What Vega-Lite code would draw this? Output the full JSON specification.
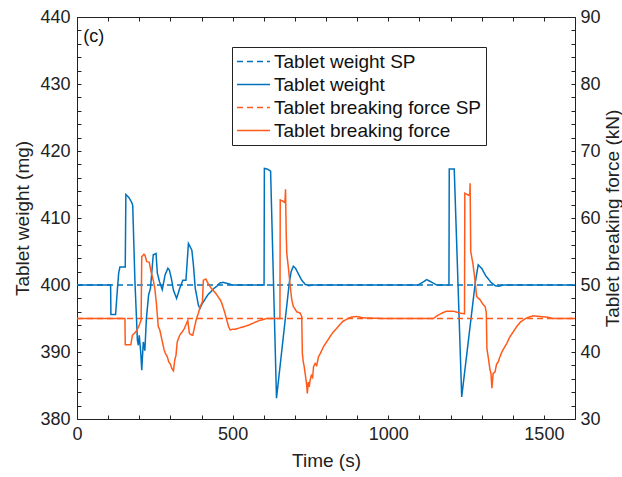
{
  "$schema": "https://vega.github.io/schema/vega-lite/v6.json",
  "width": 498,
  "height": 402,
  "autosize": "none",
  "padding": {"left": 77, "top": 17, "right": 47, "bottom": 58},
  "background": "white",
  "config": {
    "font": "Liberation Sans",
    "view": {"stroke": "#222", "strokeWidth": 1},
    "axis": {
      "grid": false,
      "domain": false,
      "labelFont": "Liberation Sans",
      "labelFontSize": 18,
      "labelColor": "#222",
      "labelOverlap": false,
      "titleFont": "Liberation Sans",
      "titleFontSize": 19,
      "titleFontWeight": "normal",
      "titleColor": "#222",
      "tickColor": "#222",
      "tickWidth": 1,
      "tickSize": -4
    }
  },
  "datasets": {
    "weight": [
      {"series": "Tablet weight SP", "t": 0, "v": 400},
      {"series": "Tablet weight SP", "t": 1600, "v": 400},
      {"series": "Tablet weight", "t": 0, "v": 400},
      {"series": "Tablet weight", "t": 108, "v": 400},
      {"series": "Tablet weight", "t": 109, "v": 395.6},
      {"series": "Tablet weight", "t": 124, "v": 395.6},
      {"series": "Tablet weight", "t": 130, "v": 399.5},
      {"series": "Tablet weight", "t": 134, "v": 401.8},
      {"series": "Tablet weight", "t": 138, "v": 402.7},
      {"series": "Tablet weight", "t": 155, "v": 402.7},
      {"series": "Tablet weight", "t": 157, "v": 413.5},
      {"series": "Tablet weight", "t": 166, "v": 413.1},
      {"series": "Tablet weight", "t": 176, "v": 412.3},
      {"series": "Tablet weight", "t": 179, "v": 411.9},
      {"series": "Tablet weight", "t": 186, "v": 400.7},
      {"series": "Tablet weight", "t": 194, "v": 391.8},
      {"series": "Tablet weight", "t": 197, "v": 391},
      {"series": "Tablet weight", "t": 200, "v": 392.5},
      {"series": "Tablet weight", "t": 205, "v": 389.8},
      {"series": "Tablet weight", "t": 208, "v": 387.3},
      {"series": "Tablet weight", "t": 213, "v": 391.5},
      {"series": "Tablet weight", "t": 218, "v": 390.2},
      {"series": "Tablet weight", "t": 223, "v": 395},
      {"series": "Tablet weight", "t": 230, "v": 398.5},
      {"series": "Tablet weight", "t": 236, "v": 399.5},
      {"series": "Tablet weight", "t": 245, "v": 404.5},
      {"series": "Tablet weight", "t": 254, "v": 404.7},
      {"series": "Tablet weight", "t": 258, "v": 401.8},
      {"series": "Tablet weight", "t": 265, "v": 400.5},
      {"series": "Tablet weight", "t": 274, "v": 399.3},
      {"series": "Tablet weight", "t": 283, "v": 401.5},
      {"series": "Tablet weight", "t": 292, "v": 402.5},
      {"series": "Tablet weight", "t": 297, "v": 402.2},
      {"series": "Tablet weight", "t": 303, "v": 401},
      {"series": "Tablet weight", "t": 310, "v": 399.2},
      {"series": "Tablet weight", "t": 320, "v": 398},
      {"series": "Tablet weight", "t": 330, "v": 399.5},
      {"series": "Tablet weight", "t": 340, "v": 400.7},
      {"series": "Tablet weight", "t": 350, "v": 400.7},
      {"series": "Tablet weight", "t": 358, "v": 406.2},
      {"series": "Tablet weight", "t": 369, "v": 405.2},
      {"series": "Tablet weight", "t": 374, "v": 403},
      {"series": "Tablet weight", "t": 380, "v": 399.5},
      {"series": "Tablet weight", "t": 390, "v": 397},
      {"series": "Tablet weight", "t": 395, "v": 396.5},
      {"series": "Tablet weight", "t": 402, "v": 397.2},
      {"series": "Tablet weight", "t": 420, "v": 398.5},
      {"series": "Tablet weight", "t": 440, "v": 399.5},
      {"series": "Tablet weight", "t": 449, "v": 399.8},
      {"series": "Tablet weight", "t": 459, "v": 400.3},
      {"series": "Tablet weight", "t": 470, "v": 400.4},
      {"series": "Tablet weight", "t": 485, "v": 400.2},
      {"series": "Tablet weight", "t": 500, "v": 400},
      {"series": "Tablet weight", "t": 601, "v": 400},
      {"series": "Tablet weight", "t": 602, "v": 417.4},
      {"series": "Tablet weight", "t": 612, "v": 417.3},
      {"series": "Tablet weight", "t": 622, "v": 417},
      {"series": "Tablet weight", "t": 641, "v": 383.1},
      {"series": "Tablet weight", "t": 682, "v": 400.3},
      {"series": "Tablet weight", "t": 688, "v": 402},
      {"series": "Tablet weight", "t": 695, "v": 402.8},
      {"series": "Tablet weight", "t": 702, "v": 402.5},
      {"series": "Tablet weight", "t": 712, "v": 401.6},
      {"series": "Tablet weight", "t": 722, "v": 400.7},
      {"series": "Tablet weight", "t": 733, "v": 400.1},
      {"series": "Tablet weight", "t": 745, "v": 399.9},
      {"series": "Tablet weight", "t": 760, "v": 400},
      {"series": "Tablet weight", "t": 1096, "v": 400},
      {"series": "Tablet weight", "t": 1110, "v": 400.4},
      {"series": "Tablet weight", "t": 1124, "v": 400.8},
      {"series": "Tablet weight", "t": 1140, "v": 400.4},
      {"series": "Tablet weight", "t": 1156, "v": 400},
      {"series": "Tablet weight", "t": 1195, "v": 400},
      {"series": "Tablet weight", "t": 1196, "v": 417.3},
      {"series": "Tablet weight", "t": 1212, "v": 417.3},
      {"series": "Tablet weight", "t": 1236, "v": 383.3},
      {"series": "Tablet weight", "t": 1280, "v": 400.5},
      {"series": "Tablet weight", "t": 1289, "v": 403},
      {"series": "Tablet weight", "t": 1300, "v": 402.5},
      {"series": "Tablet weight", "t": 1313, "v": 401.4},
      {"series": "Tablet weight", "t": 1330, "v": 400.4},
      {"series": "Tablet weight", "t": 1343, "v": 399.9},
      {"series": "Tablet weight", "t": 1355, "v": 399.8},
      {"series": "Tablet weight", "t": 1370, "v": 400},
      {"series": "Tablet weight", "t": 1600, "v": 400}
    ],
    "force": [
      {"series": "Tablet breaking force SP", "t": 0, "v": 45},
      {"series": "Tablet breaking force SP", "t": 1600, "v": 45},
      {"series": "Tablet breaking force", "t": 0, "v": 45},
      {"series": "Tablet breaking force", "t": 154, "v": 45},
      {"series": "Tablet breaking force", "t": 155, "v": 41.1},
      {"series": "Tablet breaking force", "t": 173, "v": 41.1},
      {"series": "Tablet breaking force", "t": 178, "v": 42.5},
      {"series": "Tablet breaking force", "t": 185, "v": 42.8},
      {"series": "Tablet breaking force", "t": 192, "v": 43.2},
      {"series": "Tablet breaking force", "t": 200, "v": 44},
      {"series": "Tablet breaking force", "t": 206, "v": 44.8},
      {"series": "Tablet breaking force", "t": 208, "v": 54.2},
      {"series": "Tablet breaking force", "t": 215, "v": 54.6},
      {"series": "Tablet breaking force", "t": 218, "v": 54.5},
      {"series": "Tablet breaking force", "t": 224, "v": 53.5},
      {"series": "Tablet breaking force", "t": 232, "v": 53.4},
      {"series": "Tablet breaking force", "t": 238, "v": 52},
      {"series": "Tablet breaking force", "t": 245, "v": 50.7},
      {"series": "Tablet breaking force", "t": 250, "v": 49.5},
      {"series": "Tablet breaking force", "t": 255, "v": 47.3},
      {"series": "Tablet breaking force", "t": 261, "v": 43.8},
      {"series": "Tablet breaking force", "t": 266, "v": 43.3},
      {"series": "Tablet breaking force", "t": 272, "v": 42},
      {"series": "Tablet breaking force", "t": 280, "v": 40.3},
      {"series": "Tablet breaking force", "t": 284, "v": 39.8},
      {"series": "Tablet breaking force", "t": 290, "v": 39.3},
      {"series": "Tablet breaking force", "t": 295, "v": 38.5},
      {"series": "Tablet breaking force", "t": 300, "v": 38.2},
      {"series": "Tablet breaking force", "t": 305, "v": 37.5},
      {"series": "Tablet breaking force", "t": 310, "v": 37.2},
      {"series": "Tablet breaking force", "t": 314, "v": 38.8},
      {"series": "Tablet breaking force", "t": 318, "v": 39.5},
      {"series": "Tablet breaking force", "t": 322, "v": 41.5},
      {"series": "Tablet breaking force", "t": 330, "v": 42.5},
      {"series": "Tablet breaking force", "t": 338, "v": 43},
      {"series": "Tablet breaking force", "t": 345, "v": 43.5},
      {"series": "Tablet breaking force", "t": 352, "v": 44.3},
      {"series": "Tablet breaking force", "t": 356, "v": 44.7},
      {"series": "Tablet breaking force", "t": 361, "v": 42.8},
      {"series": "Tablet breaking force", "t": 366, "v": 42.6},
      {"series": "Tablet breaking force", "t": 372, "v": 42.5},
      {"series": "Tablet breaking force", "t": 378, "v": 43.8},
      {"series": "Tablet breaking force", "t": 384, "v": 45},
      {"series": "Tablet breaking force", "t": 390, "v": 45.8},
      {"series": "Tablet breaking force", "t": 396, "v": 46.8},
      {"series": "Tablet breaking force", "t": 403, "v": 47.5},
      {"series": "Tablet breaking force", "t": 406, "v": 50.7},
      {"series": "Tablet breaking force", "t": 414, "v": 50.9},
      {"series": "Tablet breaking force", "t": 420, "v": 50.3},
      {"series": "Tablet breaking force", "t": 430, "v": 49.6},
      {"series": "Tablet breaking force", "t": 445, "v": 48.8},
      {"series": "Tablet breaking force", "t": 460, "v": 47.8},
      {"series": "Tablet breaking force", "t": 465, "v": 47.3},
      {"series": "Tablet breaking force", "t": 474, "v": 46},
      {"series": "Tablet breaking force", "t": 481, "v": 44.8},
      {"series": "Tablet breaking force", "t": 487, "v": 43.8},
      {"series": "Tablet breaking force", "t": 492, "v": 43.3},
      {"series": "Tablet breaking force", "t": 500, "v": 43.4},
      {"series": "Tablet breaking force", "t": 508, "v": 43.4},
      {"series": "Tablet breaking force", "t": 530, "v": 43.7},
      {"series": "Tablet breaking force", "t": 551, "v": 44},
      {"series": "Tablet breaking force", "t": 580, "v": 44.6},
      {"series": "Tablet breaking force", "t": 609, "v": 45},
      {"series": "Tablet breaking force", "t": 652, "v": 45},
      {"series": "Tablet breaking force", "t": 653, "v": 62.7},
      {"series": "Tablet breaking force", "t": 662, "v": 62.5},
      {"series": "Tablet breaking force", "t": 668, "v": 62.3},
      {"series": "Tablet breaking force", "t": 670, "v": 64.3},
      {"series": "Tablet breaking force", "t": 672, "v": 58},
      {"series": "Tablet breaking force", "t": 674, "v": 54.7},
      {"series": "Tablet breaking force", "t": 680, "v": 52.2},
      {"series": "Tablet breaking force", "t": 685, "v": 49.8},
      {"series": "Tablet breaking force", "t": 690, "v": 47.8},
      {"series": "Tablet breaking force", "t": 695, "v": 46.8},
      {"series": "Tablet breaking force", "t": 706, "v": 46},
      {"series": "Tablet breaking force", "t": 717, "v": 45.8},
      {"series": "Tablet breaking force", "t": 722, "v": 45.3},
      {"series": "Tablet breaking force", "t": 724, "v": 39.8},
      {"series": "Tablet breaking force", "t": 727, "v": 38.5},
      {"series": "Tablet breaking force", "t": 730, "v": 37.8},
      {"series": "Tablet breaking force", "t": 733, "v": 36.8},
      {"series": "Tablet breaking force", "t": 736, "v": 35.8},
      {"series": "Tablet breaking force", "t": 738, "v": 35},
      {"series": "Tablet breaking force", "t": 740, "v": 33.8},
      {"series": "Tablet breaking force", "t": 743, "v": 35.5},
      {"series": "Tablet breaking force", "t": 746, "v": 34.8},
      {"series": "Tablet breaking force", "t": 749, "v": 35.8},
      {"series": "Tablet breaking force", "t": 753, "v": 36.5},
      {"series": "Tablet breaking force", "t": 757, "v": 36.2},
      {"series": "Tablet breaking force", "t": 760, "v": 37.8},
      {"series": "Tablet breaking force", "t": 765, "v": 38.3},
      {"series": "Tablet breaking force", "t": 770, "v": 38},
      {"series": "Tablet breaking force", "t": 776, "v": 39.3},
      {"series": "Tablet breaking force", "t": 782, "v": 39.8},
      {"series": "Tablet breaking force", "t": 787, "v": 40.3},
      {"series": "Tablet breaking force", "t": 792, "v": 40.8},
      {"series": "Tablet breaking force", "t": 802, "v": 41.5},
      {"series": "Tablet breaking force", "t": 813, "v": 42.3},
      {"series": "Tablet breaking force", "t": 822, "v": 42.9},
      {"series": "Tablet breaking force", "t": 834, "v": 43.5},
      {"series": "Tablet breaking force", "t": 845, "v": 44.1},
      {"series": "Tablet breaking force", "t": 855, "v": 44.6},
      {"series": "Tablet breaking force", "t": 867, "v": 44.9},
      {"series": "Tablet breaking force", "t": 880, "v": 45.2},
      {"series": "Tablet breaking force", "t": 899, "v": 45.3},
      {"series": "Tablet breaking force", "t": 920, "v": 45.1},
      {"series": "Tablet breaking force", "t": 985, "v": 45},
      {"series": "Tablet breaking force", "t": 1145, "v": 45},
      {"series": "Tablet breaking force", "t": 1160, "v": 45.5},
      {"series": "Tablet breaking force", "t": 1177, "v": 45.9},
      {"series": "Tablet breaking force", "t": 1188, "v": 46.1},
      {"series": "Tablet breaking force", "t": 1210, "v": 46.1},
      {"series": "Tablet breaking force", "t": 1230, "v": 45.8},
      {"series": "Tablet breaking force", "t": 1245, "v": 45.7},
      {"series": "Tablet breaking force", "t": 1246, "v": 63.7},
      {"series": "Tablet breaking force", "t": 1258, "v": 63.4},
      {"series": "Tablet breaking force", "t": 1262, "v": 63.6},
      {"series": "Tablet breaking force", "t": 1263, "v": 65.2},
      {"series": "Tablet breaking force", "t": 1265, "v": 55},
      {"series": "Tablet breaking force", "t": 1268, "v": 54.2},
      {"series": "Tablet breaking force", "t": 1272, "v": 53.2},
      {"series": "Tablet breaking force", "t": 1278, "v": 51},
      {"series": "Tablet breaking force", "t": 1284, "v": 48.3},
      {"series": "Tablet breaking force", "t": 1290, "v": 48},
      {"series": "Tablet breaking force", "t": 1295, "v": 47.8},
      {"series": "Tablet breaking force", "t": 1303, "v": 47.2},
      {"series": "Tablet breaking force", "t": 1311, "v": 46.8},
      {"series": "Tablet breaking force", "t": 1315, "v": 45.9},
      {"series": "Tablet breaking force", "t": 1317, "v": 40.5},
      {"series": "Tablet breaking force", "t": 1321, "v": 39.3},
      {"series": "Tablet breaking force", "t": 1327, "v": 37.3},
      {"series": "Tablet breaking force", "t": 1330, "v": 36.8},
      {"series": "Tablet breaking force", "t": 1333, "v": 34.6},
      {"series": "Tablet breaking force", "t": 1337, "v": 36.8},
      {"series": "Tablet breaking force", "t": 1343, "v": 37},
      {"series": "Tablet breaking force", "t": 1348, "v": 38.2},
      {"series": "Tablet breaking force", "t": 1353, "v": 38.5},
      {"series": "Tablet breaking force", "t": 1359, "v": 39.3},
      {"series": "Tablet breaking force", "t": 1365, "v": 40},
      {"series": "Tablet breaking force", "t": 1371, "v": 40.5},
      {"series": "Tablet breaking force", "t": 1381, "v": 41.3},
      {"series": "Tablet breaking force", "t": 1390, "v": 42.2},
      {"series": "Tablet breaking force", "t": 1400, "v": 42.9},
      {"series": "Tablet breaking force", "t": 1413, "v": 43.8},
      {"series": "Tablet breaking force", "t": 1425, "v": 44.5},
      {"series": "Tablet breaking force", "t": 1445, "v": 45.1},
      {"series": "Tablet breaking force", "t": 1465, "v": 45.4},
      {"series": "Tablet breaking force", "t": 1488, "v": 45.3},
      {"series": "Tablet breaking force", "t": 1510, "v": 45.2},
      {"series": "Tablet breaking force", "t": 1530, "v": 45},
      {"series": "Tablet breaking force", "t": 1600, "v": 45}
    ]
  },
  "layer": [
    {
      "layer": [
        {
          "data": {"name": "weight"},
          "mark": {"type": "line", "strokeWidth": 1.5, "interpolate": "linear"},
          "encoding": {
            "x": {
              "field": "t", "type": "quantitative",
              "scale": {"domain": [0, 1600], "nice": false},
              "axis": {
                "orient": "bottom",
                "title": "Time (s)",
                "format": "d",
                "values": [0, 100, 200, 300, 400, 500, 600, 700, 800, 900, 1000, 1100, 1200, 1300, 1400, 1500, 1600],
                "labelExpr": "datum.value % 500 === 0 ? datum.label : ''",
                "labelPadding": 10,
                "titlePadding": 8,
                "labelFlush": false
              }
            },
            "y": {
              "field": "v", "type": "quantitative",
              "scale": {"domain": [380, 440], "nice": false, "zero": false},
              "axis": {
                "orient": "left",
                "title": "Tablet weight (mg)",
                "values": [380, 382, 384, 386, 388, 390, 392, 394, 396, 398, 400, 402, 404, 406, 408, 410, 412, 414, 416, 418, 420, 422, 424, 426, 428, 430, 432, 434, 436, 438, 440],
                "labelExpr": "datum.value % 10 === 0 ? datum.label : ''",
                "labelPadding": 11,
                "titlePadding": 7
              }
            },
            "color": {
              "field": "series", "type": "nominal",
              "scale": {
                "domain": ["Tablet weight SP", "Tablet weight", "Tablet breaking force SP", "Tablet breaking force"],
                "range": ["#0072BD", "#0072BD", "#FF5A1A", "#FF5A1A"]
              },
              "legend": {
                "title": null,
                "orient": "none",
                "legendX": 155,
                "legendY": 30,
                "symbolType": "stroke",
                "symbolSize": 1089,
                "symbolStrokeWidth": 1.5,
                "labelFont": "Liberation Sans",
                "labelFontSize": 19,
                "labelColor": "#111",
                "labelLimit": 400,
                "labelOffset": 3,
                "strokeColor": "#222",
                "fillColor": "white",
                "padding": 4,
                "rowPadding": 2,
                "clipHeight": 21
              }
            },
            "strokeDash": {
              "field": "series", "type": "nominal",
              "scale": {
                "domain": ["Tablet weight SP", "Tablet weight", "Tablet breaking force SP", "Tablet breaking force"],
                "range": [[6, 4], [1, 0], [6, 4], [1, 0]]
              },
              "legend": {
                "title": null,
                "orient": "none",
                "legendX": 155,
                "legendY": 30,
                "symbolType": "stroke",
                "symbolSize": 1089,
                "symbolStrokeWidth": 1.5,
                "labelFont": "Liberation Sans",
                "labelFontSize": 19,
                "labelLimit": 400,
                "labelOffset": 3,
                "strokeColor": "#222",
                "fillColor": "white",
                "padding": 4,
                "rowPadding": 2,
                "clipHeight": 21
              }
            }
          }
        },
        {
          "data": {"values": [{"t": 20, "v": 437, "label": "(c)"}]},
          "mark": {"type": "text", "align": "left", "baseline": "middle", "fontSize": 18, "font": "Liberation Sans", "color": "#111"},
          "encoding": {
            "x": {
              "field": "t", "type": "quantitative",
              "axis": {
                "orient": "bottom",
                "title": "Time (s)",
                "format": "d",
                "values": [0, 100, 200, 300, 400, 500, 600, 700, 800, 900, 1000, 1100, 1200, 1300, 1400, 1500, 1600],
                "labelExpr": "datum.value % 500 === 0 ? datum.label : ''",
                "labelPadding": 10,
                "titlePadding": 8,
                "labelFlush": false
              }
            },
            "y": {
              "field": "v", "type": "quantitative",
              "axis": {
                "orient": "left",
                "title": "Tablet weight (mg)",
                "values": [380, 382, 384, 386, 388, 390, 392, 394, 396, 398, 400, 402, 404, 406, 408, 410, 412, 414, 416, 418, 420, 422, 424, 426, 428, 430, 432, 434, 436, 438, 440],
                "labelExpr": "datum.value % 10 === 0 ? datum.label : ''",
                "labelPadding": 11,
                "titlePadding": 7
              }
            },
            "text": {"field": "label"}
          }
        }
      ]
    },
    {
      "data": {"name": "force"},
      "mark": {"type": "line", "strokeWidth": 1.5, "interpolate": "linear"},
      "encoding": {
        "x": {
          "field": "t", "type": "quantitative",
          "axis": {
            "orient": "top",
            "title": null,
            "labels": false,
            "values": [0, 100, 200, 300, 400, 500, 600, 700, 800, 900, 1000, 1100, 1200, 1300, 1400, 1500, 1600]
          }
        },
        "y": {
          "field": "v", "type": "quantitative",
          "scale": {"domain": [30, 90], "nice": false, "zero": false},
          "axis": {
            "orient": "right",
            "title": "Tablet breaking force (kN)",
            "titleAngle": 270,
            "titleBaseline": "top",
            "values": [30, 32, 34, 36, 38, 40, 42, 44, 46, 48, 50, 52, 54, 56, 58, 60, 62, 64, 66, 68, 70, 72, 74, 76, 78, 80, 82, 84, 86, 88, 90],
            "labelExpr": "datum.value % 10 === 0 ? datum.label : ''",
            "labelPadding": 9,
            "titlePadding": 3
          }
        },
        "color": {"field": "series", "type": "nominal"},
        "strokeDash": {"field": "series", "type": "nominal"}
      }
    }
  ],
  "resolve": {"scale": {"y": "independent"}, "axis": {"x": "independent", "y": "independent"}}
}
